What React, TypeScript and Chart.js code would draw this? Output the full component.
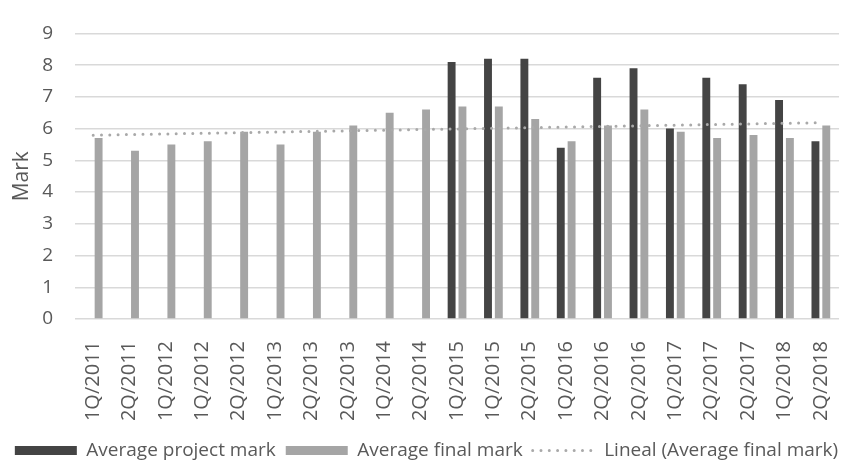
import React, { useEffect, useRef } from "react";
import { Chart, registerables } from "chart.js";

Chart.register(...registerables);

// Semester labels along the category axis
const periods = [
  "1Q/2011", "2Q/2011", "1Q/2012", "1Q/2012", "2Q/2012", "1Q/2013", "2Q/2013",
  "2Q/2013", "1Q/2014", "2Q/2014", "1Q/2015", "1Q/2015", "2Q/2015", "1Q/2016",
  "2Q/2016", "2Q/2016", "1Q/2017", "2Q/2017", "2Q/2017", "1Q/2018", "2Q/2018",
];

// Project marks only exist from 2015 onwards
const projectMarks: (number | null)[] = [
  null, null, null, null, null, null, null, null, null, null,
  8.1, 8.2, 8.2, 5.4, 7.6, 7.9, 6.0, 7.6, 7.4, 6.9, 5.6,
];

const finalMarks = [
  5.7, 5.3, 5.5, 5.6, 5.9, 5.5, 5.9, 6.1, 6.5, 6.6,
  6.7, 6.7, 6.3, 5.6, 6.1, 6.6, 5.9, 5.7, 5.8, 5.7, 6.1,
];

const markMin = 0;
const markMax = 9;
const markStep = 1;

const seriesNames = [
  "Average project mark",
  "Average final mark",
  "Lineal (Average final mark)",
];

// Least-squares straight line through the final marks (spreadsheet "linear trendline")
function leastSquaresLine(values: number[]): number[] {
  const n = values.length;
  const xMean = (n - 1) / 2;
  const yMean = values.reduce((s, v) => s + v, 0) / n;
  let num = 0;
  let den = 0;
  values.forEach((v, i) => {
    num += (i - xMean) * (v - yMean);
    den += (i - xMean) * (i - xMean);
  });
  const slope = num / den;
  return values.map((_, i) => yMean + slope * (i - xMean));
}

const TEXT = "#595959";
const DARK = "#444444";
const LIGHT = "#a5a5a5";
const TREND = "#a9a9a9";
const GRID = "#d9d9d9";
const TREND_DASH = [0, 8.3];

export default function App() {
  const canvasRef = useRef<HTMLCanvasElement | null>(null);

  useEffect(() => {
    const canvas = canvasRef.current;
    if (!canvas) return;
    Chart.defaults.font.family = "'Open Sans', 'Noto Sans', sans-serif";
    Chart.defaults.color = TEXT;

    const defaultLabels = Chart.defaults.plugins.legend.labels.generateLabels;

    const chart = new Chart(canvas, {
      type: "bar",
      data: {
        labels: periods,
        datasets: [
          {
            label: seriesNames[0],
            data: projectMarks,
            backgroundColor: DARK,
            categoryPercentage: 0.595,
            barPercentage: 0.73,
            pointStyle: "rect",
            order: 1,
          },
          {
            label: seriesNames[1],
            data: finalMarks,
            backgroundColor: LIGHT,
            categoryPercentage: 0.595,
            barPercentage: 0.73,
            pointStyle: "rect",
            order: 1,
          },
          {
            type: "line",
            label: seriesNames[2],
            data: leastSquaresLine(finalMarks),
            borderColor: TREND,
            backgroundColor: TREND,
            borderWidth: 3,
            borderDash: TREND_DASH,
            borderCapStyle: "round",
            pointRadius: 0,
            pointStyle: "line",
            fill: false,
            tension: 0,
            order: 0,
          },
        ] as any,
      },
      options: {
        responsive: false,
        animation: false,
        events: [],
        layout: { padding: { top: 20, right: 6, bottom: -8, left: 0 } },
        plugins: {
          tooltip: { enabled: false },
          legend: {
            position: "bottom",
            labels: {
              usePointStyle: true,
              pointStyleWidth: 62,
              boxHeight: 9,
              padding: 10,
              color: TEXT,
              font: { size: 19 },
              sort: (a: any, b: any) => a.datasetIndex - b.datasetIndex,
              generateLabels: (c: any) =>
                defaultLabels(c).map((item: any) =>
                  item.datasetIndex === 2
                    ? {
                        ...item,
                        lineDash: TREND_DASH,
                        lineCap: "round",
                        lineWidth: 3,
                        strokeStyle: TREND,
                      }
                    : item
                ),
            },
          },
        },
        scales: {
          x: {
            grid: { display: false },
            border: { display: false },
            ticks: {
              autoSkip: false,
              minRotation: 90,
              maxRotation: 90,
              padding: 14,
              color: TEXT,
              font: { size: 20 },
            },
            afterFit: (s: any) => {
              s.height = 112;
            },
          },
          y: {
            min: markMin,
            max: markMax,
            ticks: {
              stepSize: markStep,
              padding: 22,
              color: TEXT,
              font: { size: 19 },
            },
            grid: { color: GRID, lineWidth: 1.5, drawTicks: false },
            border: { display: false },
            title: {
              display: true,
              text: "Mark",
              color: TEXT,
              font: { size: 21 },
              padding: { top: 9, bottom: 0 },
            },
            afterFit: (s: any) => {
              s.width = 75;
            },
          },
        },
      } as any,
    });

    return () => chart.destroy();
  }, []);

  return (
    <div
      style={{
        position: "absolute",
        left: 0,
        top: 0,
        width: 859,
        height: 462,
        background: "#ffffff",
      }}
    >
      <canvas ref={canvasRef} width={859} height={462} style={{ display: "block" }} />
    </div>
  );
}
